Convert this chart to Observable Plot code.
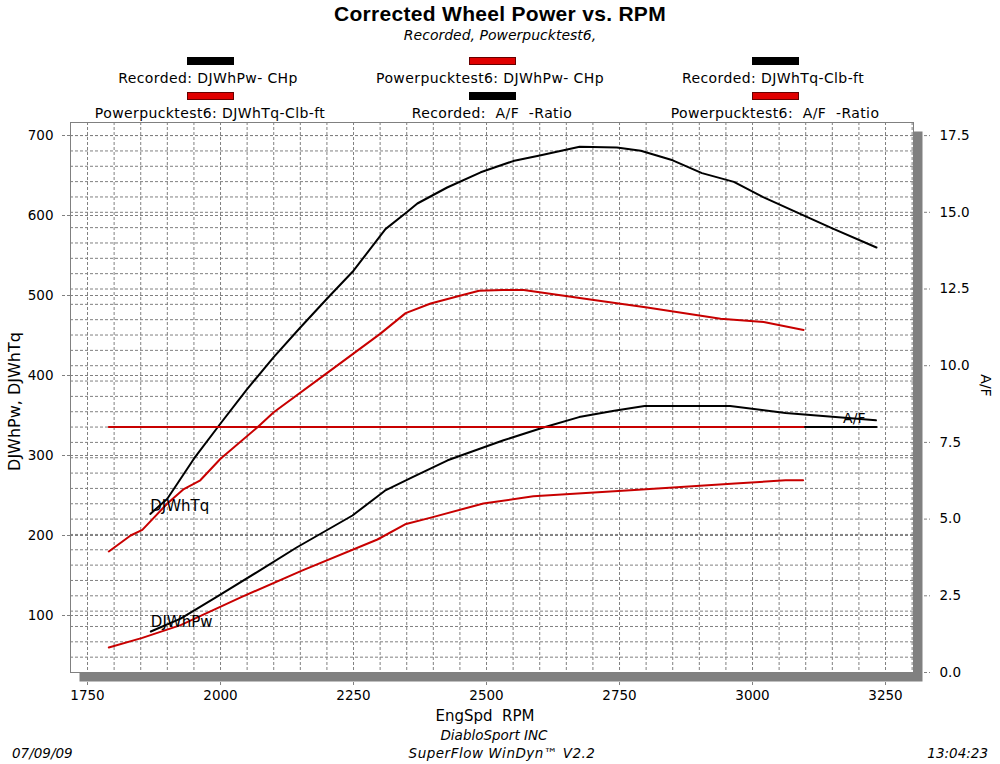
<!DOCTYPE html>
<html>
<head>
<meta charset="utf-8">
<script src="https://cdn.jsdelivr.net/npm/d3@7"></script>
<script src="https://cdn.jsdelivr.net/npm/@observablehq/plot@0.6"></script>
<style>
  body { margin: 0; background: #fff; }
  #wrap { position: relative; width: 1000px; height: 764px; overflow: hidden; background: #fff; font-family: "DejaVu Sans", sans-serif; color: #000; }
  #wrap svg { position: absolute; left: 0; top: 0; }
  .t { position: absolute; white-space: pre; line-height: 1; transform: translateX(-50%); }
  .sw { position: absolute; width: 45px; height: 6px; border: 1px solid #000; }
</style>
</head>
<body>
<div id="wrap"></div>
<script>
// ---------- data ----------
const recordedTorqueRpm = [1868,1900,1950,2000,2050,2100,2150,2200,2250,2310,2350,2370,2426,2489,2550,2600,2675,2745,2790,2850,2905,2965,3020,3100,3150,3233];
const recordedTorque    = [227,246,296,340,383,423,460,496,531,583,604,615,635,654,668,675,686,685,681,669,653,642,623,599,584,560];

const powerpuckTorqueRpm = [1790,1831,1853,1900,1931,1962,2000,2069,2100,2200,2300,2348,2395,2457,2486,2530,2570,2695,2802,2940,3021,3096];
const powerpuckTorque    = [180,200,207,240,258,269,296,335,354,403,452,478,490,501,506,507,507,495,485,471,467,457];

const recordedPowerRpm = [1869,1925,1992,2068,2143,2248,2309,2361,2427,2532,2607,2674,2740,2797,2958,3062,3232];
const recordedPower    = [80,96,123,154,185,225,256,273,294,319,335,348,356,362,362,353,344];

const powerpuckPowerRpm = [1790,1853,1925,2039,2153,2295,2347,2399,2494,2588,2778,2967,3062,3095];
const powerpuckPower    = [60,72,88,123,156,195,214,223,240,249,257,265,269,269];

const recordedAfRpm  = [1868, 3233];
const recordedAf     = [8.0, 8.0];
const powerpuckAfRpm = [1790, 3096];
const powerpuckAf    = [8.0, 8.0];

const xTicks  = [1750, 2000, 2250, 2500, 2750, 3000, 3250];
const yTicks  = [100, 200, 300, 400, 500, 600, 700];
const afTicks = [0.0, 2.5, 5.0, 7.5, 10.0, 12.5, 15.0, 17.5];

const title = "Corrected Wheel Power vs. RPM";
const subtitle = "Recorded, Powerpucktest6,";
const legendRow1 = [
  {label: "Recorded: DJWhPw- CHp", color: "#000000"},
  {label: "Powerpucktest6: DJWhPw- CHp", color: "#e00000"},
  {label: "Recorded: DJWhTq-Clb-ft", color: "#000000"}
];
const legendRow2 = [
  {label: "Powerpucktest6: DJWhTq-Clb-ft", color: "#e00000"},
  {label: "Recorded:  A/F  -Ratio", color: "#000000"},
  {label: "Powerpucktest6:  A/F  -Ratio", color: "#e00000"}
];
const xLabel = "EngSpd\u00a0\u00a0RPM";
const yLabel = "DJWhPw, DJWhTq";
const y2Label = "A/F";
const footer1 = "DiabloSport INC";
const footer2 = "SuperFlow WinDyn\u2122 V2.2";
const dateText = "07/09/09";
const timeText = "13:04:23";

// ---------- tables ----------
const table = (xs, ys) => xs.map((x, i) => ({rpm: x, value: ys[i]}));
const recTq = table(recordedTorqueRpm, recordedTorque);
const ppTq = table(powerpuckTorqueRpm, powerpuckTorque);
const recPw = table(recordedPowerRpm, recordedPower);
const ppPw = table(powerpuckPowerRpm, powerpuckPower);
const recAf = table(recordedAfRpm, recordedAf);
const ppAf = table(powerpuckAfRpm, powerpuckAf);

// A/F values are shown on the right axis; map them onto the left scale
const Y0 = 28.75, AFK = 38.35;
const afToY = a => Y0 + a * AFK;
const yToAf = v => (v - Y0) / AFK;

const RED = "#c80000";
const GRID = {stroke: "#808080", strokeOpacity: 1, strokeDasharray: "3,2", strokeWidth: 1};

const chart = Plot.plot({
  width: 1000,
  height: 764,
  marginLeft: 70,
  marginRight: 87,
  marginTop: 122,
  marginBottom: 92,
  x: {domain: [1718, 3302.6]},
  y: {domain: [Y0, 716.25]},
  style: {fontFamily: "DejaVu Sans, sans-serif", fontSize: "13.5px", color: "#000", background: "transparent", overflow: "visible"},
  marks: [
    Plot.frame({fill: "#808080", dx: 9, dy: 9}),
    Plot.frame({fill: "#ffffff"}),
    Plot.gridX(d3.range(1750, 3301, 50), GRID),
    Plot.gridY(yTicks, GRID),
    Plot.gridY(d3.range(0.5, 17.51, 0.5).map(afToY), GRID),
    Plot.frame({stroke: "#808080"}),
    Plot.axisX(xTicks, {tickSize: 14, tickPadding: 4, tickFormat: d => String(d), label: null, stroke: "#808080", strokeDasharray: "3,2"}),
    Plot.axisY(yTicks, {anchor: "left", tickSize: 10, tickPadding: 7, tickFormat: d => String(d), label: null, stroke: "#808080", strokeDasharray: "3,2"}),
    Plot.axisY(afTicks.map(afToY), {anchor: "right", tickSize: 16, tickPadding: 10, tickFormat: v => yToAf(v).toFixed(1), label: null, stroke: "#808080", strokeDasharray: "3,2"}),
    Plot.line(recPw, {x: "rpm", y: "value", stroke: "#000", strokeWidth: 2}),
    Plot.line(recTq, {x: "rpm", y: "value", stroke: "#000", strokeWidth: 2}),
    Plot.line(ppPw, {x: "rpm", y: "value", stroke: RED, strokeWidth: 2}),
    Plot.line(ppTq, {x: "rpm", y: "value", stroke: RED, strokeWidth: 2}),
    Plot.line(recAf, {x: "rpm", y: d => afToY(d.value), stroke: "#000", strokeWidth: 2}),
    Plot.line(ppAf, {x: "rpm", y: d => afToY(d.value), stroke: RED, strokeWidth: 2}),
    Plot.text([recTq[0]], {x: "rpm", y: "value", text: () => "DJWhTq", textAnchor: "start", dy: -8, fontSize: 15}),
    Plot.text([recPw[0]], {x: "rpm", y: "value", text: () => "DJWhPw", textAnchor: "start", dy: -9, fontSize: 15}),
    Plot.text([recAf[recAf.length - 1]], {x: "rpm", y: d => afToY(d.value), text: () => "A/F", textAnchor: "end", dx: -11, dy: -9, fontSize: 14}),
    Plot.text([yLabel], {frameAnchor: "left", text: d => d, textAnchor: "middle", lineAnchor: "middle", dx: -56, dy: 4, rotate: -90, fontSize: 16}),
    Plot.text([y2Label], {frameAnchor: "right", text: d => d, textAnchor: "middle", lineAnchor: "middle", dx: 72, dy: -12, rotate: 90, fontSize: 14}),
    Plot.text([xLabel], {frameAnchor: "bottom", text: d => d, textAnchor: "middle", lineAnchor: "middle", dy: 44, dx: -7, fontSize: 15})
  ]
});

const wrap = document.getElementById("wrap");
wrap.appendChild(chart);

// ---------- header / legend / footer ----------
function addText(str, cx, cy, size, extra = {}) {
  const d = document.createElement("div");
  d.className = "t";
  d.textContent = str;
  d.style.fontSize = size + "px";
  d.style.top = (cy - 0.48 * size) + "px";
  if (extra.anchor === "start") { d.style.left = cx + "px"; d.style.transform = "none"; }
  else if (extra.anchor === "end") { d.style.right = (1000 - cx) + "px"; d.style.transform = "none"; }
  else d.style.left = cx + "px";
  if (extra.family) d.style.fontFamily = extra.family;
  if (extra.weight) d.style.fontWeight = extra.weight;
  if (extra.italic) d.style.fontStyle = "italic";
  if (extra.ls) d.style.letterSpacing = extra.ls + "px";
  wrap.appendChild(d);
}
function addSwatch(cx, top, color) {
  const s = document.createElement("div");
  s.className = "sw";
  s.style.left = (cx - 23.5) + "px";
  s.style.top = top + "px";
  s.style.background = color;
  s.style.borderColor = color === "#000000" ? "#000" : "#600";
  wrap.appendChild(s);
}

addText(title, 500, 13.5, 21, {family: "Liberation Sans, Arial, sans-serif", weight: "bold", ls: 0.3});
addText(subtitle, 500, 35, 14, {italic: true});

const cols = [210, 492, 775];
legendRow1.forEach((d, i) => { addSwatch(cols[i], 57, d.color); addText(d.label, cols[i] - 2, 77.5, 14, {ls: 0.4}); });
legendRow2.forEach((d, i) => { addSwatch(cols[i], 92, d.color); addText(d.label, cols[i], 112.5, 14, {ls: 0.4}); });

addText(footer1, 494, 735, 13.5, {italic: true});
addText(footer2, 502, 753, 13.5, {italic: true, ls: 0.5});
addText(dateText, 12, 753, 13.5, {italic: true, anchor: "start"});
addText(timeText, 988, 753, 13.5, {italic: true, anchor: "end"});
</script>
</body>
</html>
